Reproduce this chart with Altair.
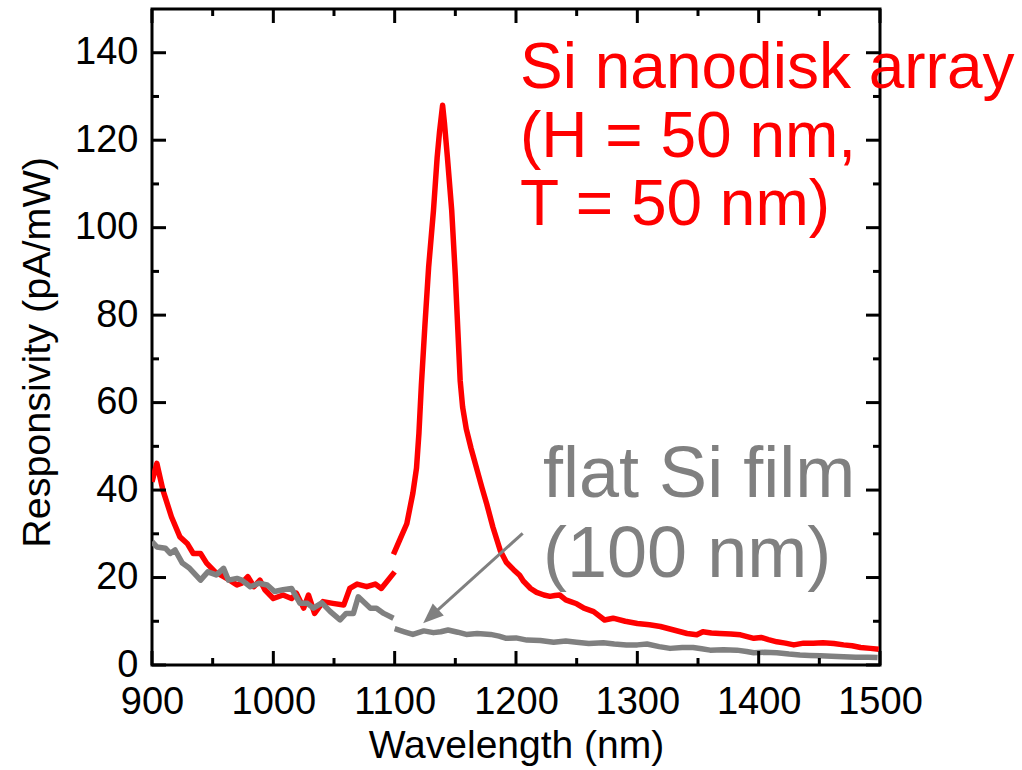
import altair as alt
import pandas as pd

# ---------------- data ----------------
# Si nanodisk array, measurement below 1100 nm
red1_wl = [900, 904, 909, 916, 923, 929, 934, 940, 945, 952, 959, 964, 970, 974, 979, 984,
           989, 993, 1000, 1008, 1015, 1019, 1025, 1029, 1034, 1041, 1049, 1058, 1063, 1069,
           1077, 1084, 1089, 1100]
red1_val = [41.9, 46.1, 40.0, 33.9, 29.3, 27.8, 25.5, 25.5, 23.3, 21.3, 20.2, 19.4, 18.3, 18.7,
            20.2, 17.9, 19.4, 17.2, 15.2, 16.0, 15.2, 16.4, 13.0, 16.0, 11.8, 14.5, 14.1, 13.7,
            17.5, 18.5, 17.9, 18.5, 17.5, 21.3]
# Si nanodisk array, measurement above 1100 nm
red2_wl = [1099, 1104, 1110, 1115, 1118, 1120, 1122, 1125, 1128, 1132, 1135, 1137, 1139.5,
           1141, 1143.5, 1147, 1150, 1152, 1154, 1156, 1159, 1163, 1168, 1172, 1176, 1181,
           1187, 1192, 1198, 1203, 1206, 1212, 1217, 1223, 1228, 1232, 1236, 1241, 1245,
           1250, 1256, 1264, 1273, 1280, 1290, 1300, 1310, 1319, 1330, 1341, 1349, 1354,
           1361, 1368, 1377, 1385, 1396, 1402, 1408, 1415, 1422, 1429, 1437, 1445, 1453,
           1462, 1470, 1477, 1484, 1492, 1499]
red2_val = [25.3, 28.5, 32.3, 39.3, 45.0, 53.0, 64.0, 78.0, 91.0, 104.0, 116.0, 122.0, 128.0,
            124.0, 116.0, 104.0, 89.0, 77.0, 65.0, 59.0, 54.0, 49.5, 44.5, 40.5, 36.7, 31.5,
            26.2, 23.5, 21.8, 20.5, 19.2, 17.5, 16.6, 16.0, 15.7, 15.9, 16.0, 14.9, 14.5,
            14.0, 13.0, 12.2, 10.3, 10.7, 10.0, 9.5, 9.2, 8.8, 8.0, 7.2, 6.9, 7.6,
            7.3, 7.2, 7.1, 6.9, 6.1, 6.3, 5.8, 5.3, 5.0, 4.6, 5.0, 5.0, 5.1,
            4.9, 4.6, 4.4, 4.0, 3.8, 3.6]
# flat Si film, below 1100 nm
gray1_wl = [900, 904, 911, 915, 919, 925, 931, 940, 946, 953, 959, 963, 970, 974, 981, 988,
            995, 1001, 1008, 1015, 1022, 1028, 1033, 1040, 1047, 1055, 1060, 1066, 1070,
            1080, 1085, 1091, 1099]
gray1_val = [28.2, 27.0, 26.7, 25.5, 26.3, 23.3, 22.1, 19.4, 21.3, 20.6, 22.1, 19.4, 19.8,
             19.4, 17.9, 18.7, 18.3, 16.8, 17.2, 17.5, 14.1, 14.1, 13.0, 14.2, 12.2, 10.3,
             11.8, 11.8, 15.6, 13.0, 13.0, 11.8, 10.7]
# flat Si film, above 1100 nm
gray2_wl = [1100, 1108, 1115, 1124, 1132, 1138, 1144, 1152, 1159, 1168, 1179, 1186, 1192,
            1200, 1209, 1220, 1231, 1241, 1250, 1260, 1272, 1281, 1291, 1300, 1308, 1318,
            1327, 1337, 1346, 1353, 1360, 1371, 1382, 1390, 1396, 1405, 1415, 1425, 1434,
            1442, 1451, 1460, 1470, 1480, 1490, 1498]
gray2_val = [8.3, 7.6, 7.0, 7.8, 7.4, 7.6, 8.0, 7.5, 7.0, 7.2, 7.0, 6.6, 6.1,
             6.2, 5.7, 5.6, 5.2, 5.5, 5.2, 4.9, 5.1, 4.8, 4.6, 4.6, 4.8, 4.2,
             3.8, 4.0, 4.0, 3.7, 3.4, 3.5, 3.4, 3.1, 2.8, 2.9, 2.8, 2.5, 2.3,
             2.2, 2.1, 2.0, 1.9, 1.8, 1.8, 1.7]

x_major = [900, 1000, 1100, 1200, 1300, 1400, 1500]
x_minor = [950, 1050, 1150, 1250, 1350, 1450]
y_major = [0, 20, 40, 60, 80, 100, 120, 140]
y_minor = [10, 30, 50, 70, 90, 110, 130]

red_lines = ["Si nanodisk array", "(H = 50 nm,", "T = 50 nm)"]
red_line_y = [131.9, 116.2, 100.6]
red_text_x = 1203.3
gray_lines = ["flat Si film", "(100 nm)"]
gray_line_y = [38.4, 20.1]
gray_text_x = 1222.3

arrow_start = (1205.5, 30.1)
arrow_head = (1129.7, 11.1)
arrow_angle = 227.7

# ---------------- build ----------------
W, H = 728, 656
FONT = "Liberation Sans"
RED, GRAY = "#ff0000", "#808080"

rows = []
for seg, curve, wl, val in [("r1", "disk", red1_wl, red1_val), ("r2", "disk", red2_wl, red2_val),
                            ("g1", "film", gray1_wl, gray1_val), ("g2", "film", gray2_wl, gray2_val)]:
    for w, v in zip(wl, val):
        rows.append({"wl": w, "resp": v, "seg": seg, "curve": curve})
df = pd.DataFrame(rows)

xs = alt.Scale(domain=[900, 1500], nice=False, zero=False)
ys = alt.Scale(domain=[0, 150], nice=False, zero=False)

xaxis = alt.Axis(title="Wavelength (nm)", values=x_major, ticks=False, tickSize=0, domain=False,
                 grid=False, labelFont=FONT, labelFontSize=38, labelColor="black", labelPadding=18,
                 titleFont=FONT, titleFontSize=39, titleFontWeight="normal", titleColor="black",
                 titlePadding=5, format="d", labelFlush=False)
yaxis = alt.Axis(title="Responsivity (pA/mW)", values=y_major, ticks=False, tickSize=0, domain=False,
                 grid=False, labelFont=FONT, labelFontSize=38, labelColor="black", labelPadding=14,
                 titleFont=FONT, titleFontSize=39.5, titleFontWeight="normal", titleColor="black",
                 titlePadding=17, titleY=343, format="d", labelFlush=False)

color_enc = alt.Color("curve:N", scale=alt.Scale(domain=["disk", "film"], range=[RED, GRAY]), legend=None)

base = alt.Chart(df)
red_layer = base.transform_filter(alt.datum.curve == "disk").mark_line(
    strokeWidth=5.5, clip=True, strokeJoin="round").encode(
    x=alt.X("wl:Q", scale=xs, axis=xaxis),
    y=alt.Y("resp:Q", scale=ys, axis=yaxis),
    color=color_enc,
    detail="seg:N",
)
gray_layer = base.transform_filter(alt.datum.curve == "film").mark_line(
    strokeWidth=5.5, clip=True, strokeJoin="round").encode(
    x=alt.X("wl:Q", scale=xs),
    y=alt.Y("resp:Q", scale=ys),
    color=color_enc,
    detail="seg:N",
)


def xticks(vals, length, top):
    d = pd.DataFrame({"v": vals})
    if top:
        enc = dict(y=alt.value(0), y2=alt.value(length))
    else:
        enc = dict(y=alt.value(H), y2=alt.value(H - length))
    return alt.Chart(d).mark_rule(color="black", strokeWidth=3, strokeCap="butt").encode(
        x=alt.X("v:Q", scale=xs), **enc)


def yticks(vals, length, right):
    d = pd.DataFrame({"v": vals})
    if right:
        enc = dict(x=alt.value(W), x2=alt.value(W - length))
    else:
        enc = dict(x=alt.value(0), x2=alt.value(length))
    return alt.Chart(d).mark_rule(color="black", strokeWidth=3, strokeCap="butt").encode(
        y=alt.Y("v:Q", scale=ys), **enc)


tick_layers = [xticks(x_major, 14, False), xticks(x_minor, 7, False),
               xticks(x_major, 14, True), xticks(x_minor, 7, True),
               yticks(y_major, 14, False), yticks(y_minor, 7, False),
               yticks(y_major, 14, True), yticks(y_minor, 7, True)]

red_txt_df = pd.DataFrame({"x": [red_text_x] * len(red_lines), "y": red_line_y, "t": red_lines})
gray_txt_df = pd.DataFrame({"x": [gray_text_x] * len(gray_lines), "y": gray_line_y, "t": gray_lines})

red_text = alt.Chart(red_txt_df).mark_text(
    align="left", baseline="alphabetic", font=FONT, fontSize=64, color=RED).encode(
    x=alt.X("x:Q", scale=xs), y=alt.Y("y:Q", scale=ys), text="t:N")
gray_text = alt.Chart(gray_txt_df).mark_text(
    align="left", baseline="alphabetic", font=FONT, fontSize=72, color=GRAY).encode(
    x=alt.X("x:Q", scale=xs), y=alt.Y("y:Q", scale=ys), text="t:N")

arrow_df = pd.DataFrame({"x": [arrow_start[0]], "y": [arrow_start[1]],
                         "x2": [arrow_head[0]], "y2": [arrow_head[1]]})
arrow_line = alt.Chart(arrow_df).mark_rule(color=GRAY, strokeWidth=3).encode(
    x=alt.X("x:Q", scale=xs), y=alt.Y("y:Q", scale=ys), x2="x2:Q", y2="y2:Q")
head_df = pd.DataFrame({"x": [arrow_head[0]], "y": [arrow_head[1]]})
arrow_tip = alt.Chart(head_df).mark_point(
    shape="M0,-1L-0.8,1L0.8,1Z", filled=True, color=GRAY, opacity=1, size=420,
    angle=arrow_angle, strokeWidth=0).encode(
    x=alt.X("x:Q", scale=xs), y=alt.Y("y:Q", scale=ys))

chart = alt.layer(red_layer, gray_layer, *tick_layers, arrow_line, arrow_tip, red_text, gray_text).properties(
    width=W, height=H,
    padding={"left": 152, "top": 9, "right": 142, "bottom": 105},
    autosize=alt.AutoSizeParams(type="none"),
    background="white",
).configure_view(stroke="black", strokeWidth=3)

chart.save("out.html", embed_options={"renderer": "svg", "actions": False})
